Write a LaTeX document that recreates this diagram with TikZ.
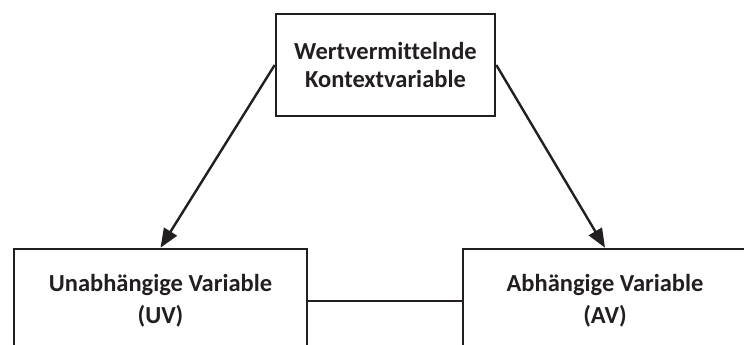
\documentclass[tikz,border=0pt]{standalone}
\usepackage{fontspec}
\setmainfont[Ligatures=NoCommon]{Carlito}
\usetikzlibrary{arrows.meta}
\definecolor{ink}{HTML}{231F20}
\begin{document}
\begin{tikzpicture}[x=1pt,y=1pt,
  box/.style={draw=ink, line width=2.6pt, rectangle, align=center, text=ink,
    font=\fontsize{24.5}{28}\selectfont\bfseries, inner sep=0pt},
  conn/.style={draw=ink, line width=2.4pt},
  arr/.style={conn, -{Triangle[length=19pt,width=15pt]}}]
\useasboundingbox (0,0) rectangle (744,345);
\clip (0,0) rectangle (744,345);
\node[box, minimum width=219, minimum height=102] (top) at (385.5,280) {Wertvermittelnde\\Kontextvariable};
\node[box, minimum width=293, minimum height=104, font=\fontsize{24.5}{32}\selectfont\bfseries] (uv) at (160.5,44) {Unabhängige Variable\\(UV)};
\node[box, minimum width=284, minimum height=104, font=\fontsize{24.5}{32}\selectfont\bfseries] (av) at (605,44) {Abhängige Variable\\(AV)};
\draw[arr] (top.west) -- (uv.north);
\draw[arr] (top.east) -- (av.north);
\draw[conn] (uv.east) -- (av.west);
\end{tikzpicture}
\end{document}
